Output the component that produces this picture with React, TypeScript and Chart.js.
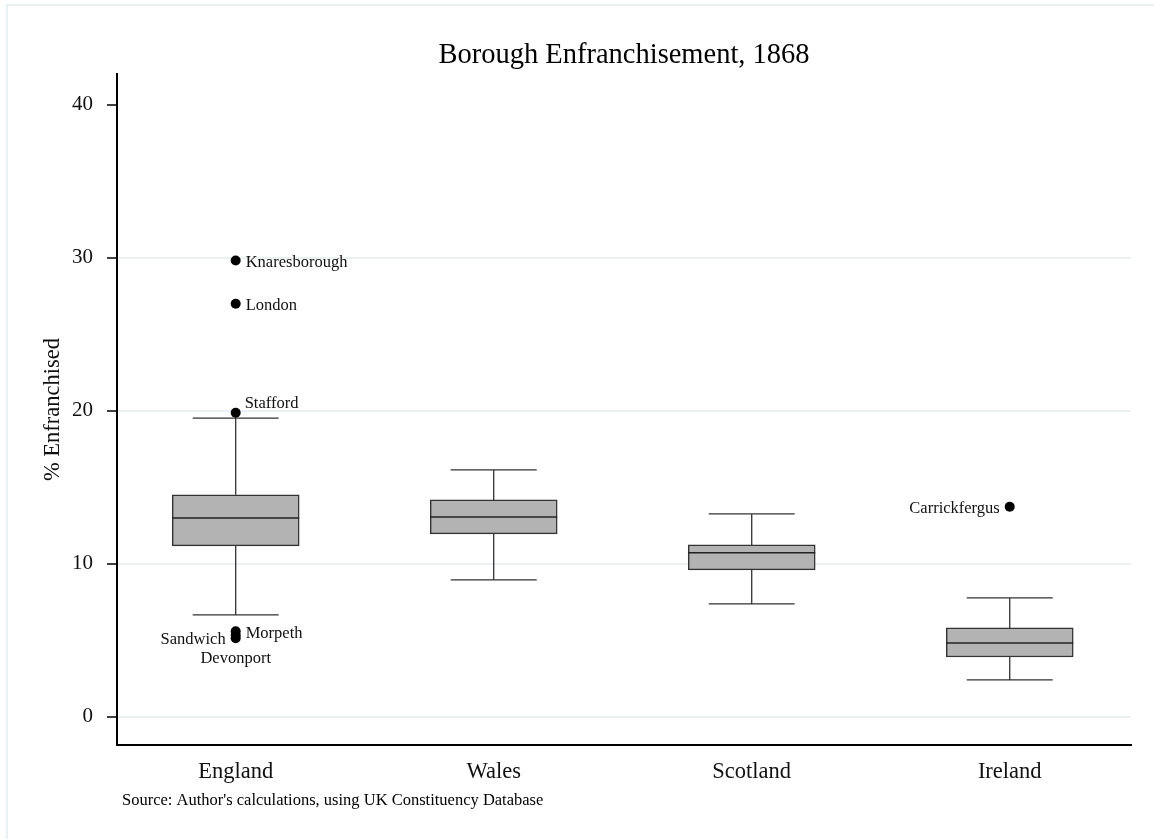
import React, { useEffect, useRef } from "react";
import { Chart, registerables } from "chart.js";

Chart.register(...registerables);

const chartTitle = "Borough Enfranchisement, 1868";
const yAxisTitle = "% Enfranchised";
const sourceNote = "Source: Author's calculations, using UK Constituency Database";

const regions = ["England", "Wales", "Scotland", "Ireland"];
const whiskerLow = [6.67, 8.95, 7.39, 2.42];
const boxLow = [11.18, 11.96, 9.61, 3.92];
const medians = [13.0, 13.07, 10.72, 4.84];
const boxHigh = [14.51, 14.18, 11.24, 5.82];
const whiskerHigh = [19.52, 16.14, 13.27, 7.78];

const outlierRegion = [0, 0, 0, 0, 0, 0, 3];
const outlierValues = [29.82, 26.99, 19.87, 5.15, 5.6, 5.35, 13.73];
const outlierNames = ["Knaresborough", "London", "Stafford", "Sandwich", "Morpeth", "Devonport", "Carrickfergus"];
const outlierLabelPos = ["right", "right", "upright", "left", "right", "below", "left"];

const yTicks = [0, 10, 20, 30, 40];

const SERIF = "'Liberation Serif', 'Times New Roman', serif";

const boxPlugin = {
  id: "boxExtras",
  beforeDraw(chart: any) {
    const ctx = chart.ctx;
    ctx.save();
    ctx.strokeStyle = "#e9f1f2";
    ctx.lineWidth = 2;
    ctx.beginPath();
    ctx.moveTo(7, chart.height);
    ctx.lineTo(7, 5);
    ctx.lineTo(chart.width, 5);
    ctx.stroke();
    ctx.restore();
  },
  beforeDatasetsDraw(chart: any) {
    const ctx = chart.ctx;
    const xs = chart.scales.x;
    const ys = chart.scales.y;
    const capHalf = 43;
    ctx.save();
    ctx.strokeStyle = "#333";
    ctx.lineWidth = 1.3;
    regions.forEach((_, i) => {
      const x = xs.getPixelForValue(i);
      ctx.beginPath();
      ctx.moveTo(x, ys.getPixelForValue(whiskerHigh[i]));
      ctx.lineTo(x, ys.getPixelForValue(boxHigh[i]));
      ctx.moveTo(x, ys.getPixelForValue(boxLow[i]));
      ctx.lineTo(x, ys.getPixelForValue(whiskerLow[i]));
      ctx.moveTo(x - capHalf, ys.getPixelForValue(whiskerHigh[i]));
      ctx.lineTo(x + capHalf, ys.getPixelForValue(whiskerHigh[i]));
      ctx.moveTo(x - capHalf, ys.getPixelForValue(whiskerLow[i]));
      ctx.lineTo(x + capHalf, ys.getPixelForValue(whiskerLow[i]));
      ctx.stroke();
    });
    ctx.restore();
  },
  afterDatasetsDraw(chart: any) {
    const ctx = chart.ctx;
    const xs = chart.scales.x;
    const ys = chart.scales.y;
    const half = 63.5;
    ctx.save();
    ctx.strokeStyle = "#222";
    ctx.lineWidth = 1.5;
    regions.forEach((_, i) => {
      const x = xs.getPixelForValue(i);
      const y = ys.getPixelForValue(medians[i]);
      ctx.beginPath();
      ctx.moveTo(x - half, y);
      ctx.lineTo(x + half, y);
      ctx.stroke();
    });
    // outlier labels
    ctx.fillStyle = "#111";
    ctx.font = `16.5px ${SERIF}`;
    outlierValues.forEach((v, i) => {
      const x = xs.getPixelForValue(outlierRegion[i]);
      const y = ys.getPixelForValue(v);
      const pos = outlierLabelPos[i];
      ctx.textBaseline = "middle";
      if (pos === "right") {
        ctx.textAlign = "left";
        ctx.fillText(outlierNames[i], x + 10, y + 2);
      } else if (pos === "upright") {
        ctx.textAlign = "left";
        ctx.fillText(outlierNames[i], x + 9, y - 9);
      } else if (pos === "left") {
        ctx.textAlign = "right";
        ctx.fillText(outlierNames[i], x - 10, y + 2);
      } else {
        ctx.textAlign = "center";
        ctx.fillText(outlierNames[i], x, y + 24);
      }
    });
    // title
    const ca = chart.chartArea;
    ctx.font = `28.5px ${SERIF}`;
    ctx.textAlign = "center";
    ctx.textBaseline = "middle";
    ctx.fillStyle = "#000";
    ctx.fillText(chartTitle, (ca.left + ca.right) / 2, 56);
    // source
    ctx.font = `16.5px ${SERIF}`;
    ctx.textAlign = "left";
    ctx.fillText(sourceNote, 122, 801);
    ctx.restore();
  },
};

export default function App() {
  const ref = useRef<HTMLCanvasElement>(null);
  useEffect(() => {
    if (!ref.current) return;
    const chart = new Chart(ref.current, {
      type: "bar",
      data: {
        datasets: [
          {
            type: "bar",
            data: regions.map((_, i) => ({ x: i, y: [boxLow[i], boxHigh[i]] })) as any,
            backgroundColor: "#b3b3b3",
            borderColor: "#333",
            borderWidth: 1.5,
            borderSkipped: false,
            barThickness: 127,
          } as any,
          {
            type: "scatter",
            data: outlierValues.map((v, i) => ({ x: outlierRegion[i], y: v })),
            pointRadius: 5,
            pointBackgroundColor: "#000",
            pointBorderColor: "#000",
            pointBorderWidth: 0,
          } as any,
        ],
      },
      options: {
        responsive: false,
        animation: false,
        layout: { padding: { top: 74, right: 23, left: 0, bottom: 0 } },
        plugins: { legend: { display: false }, tooltip: { enabled: false }, title: { display: false } },
        scales: {
          x: {
            type: "linear",
            min: -0.46,
            max: 3.47,
            offset: false,
            afterBuildTicks: (axis: any) => {
              axis.ticks = regions.map((_, i) => ({ value: i }));
            },
            afterFit: (axis: any) => {
              axis.height = 94;
            },
            grid: { display: false, drawTicks: false },
            border: { display: true, color: "#000", width: 2 },
            ticks: {
              autoSkip: false,
              maxRotation: 0,
              padding: 14,
              color: "#111",
              font: { family: SERIF, size: 22.5 },
              callback: (v: any) => regions[v] ?? "",
            },
          },
          y: {
            type: "linear",
            min: -1.83,
            max: 42.0,
            afterBuildTicks: (axis: any) => {
              axis.ticks = yTicks.map((v) => ({ value: v }));
            },
            afterFit: (axis: any) => {
              axis.width = 117;
            },
            grid: {
              color: (c: any) => (c.tick && c.tick.value === 40 ? "rgba(0,0,0,0)" : "#e9f1f2"),
              lineWidth: 2,
              tickColor: "#000",
              tickLength: 10,
              tickWidth: 1.5,
            },
            border: { display: true, color: "#000", width: 2 },
            ticks: {
              padding: 14,
              color: "#111",
              font: { family: SERIF, size: 21 },
            },
            title: {
              display: true,
              text: yAxisTitle,
              color: "#111",
              font: { family: SERIF, size: 22.5 },
              padding: { top: 40, bottom: 0 },
            },
          },
        },
      },
      plugins: [boxPlugin],
    });
    return () => chart.destroy();
  }, []);
  return (
    <div style={{ position: "fixed", left: 0, top: 0, width: 1154, height: 839, background: "#fff" }}>
      <canvas ref={ref} width={1154} height={839} style={{ width: 1154, height: 839 }} />
    </div>
  );
}
